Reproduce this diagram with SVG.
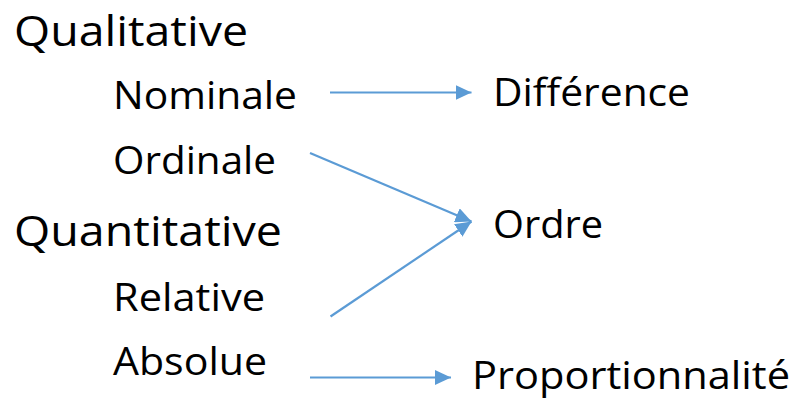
<svg xmlns="http://www.w3.org/2000/svg" width="797" height="405" viewBox="0 0 797 405">
<defs>
<style>
text{font-family:"Open Sans","Liberation Sans",sans-serif;fill:#000}
.big{font-size:42px}
.sm{font-size:38px}
.c{stroke:#5B9BD5;stroke-width:2.2;fill:none}
</style>
<marker id="ah" viewBox="0 0 16 15" refX="16" refY="7.5" markerWidth="16" markerHeight="15" markerUnits="userSpaceOnUse" orient="auto">
<path d="M0,0 L16,7.5 L0,15 Z" fill="#5B9BD5"/>
</marker>
</defs>
<rect width="797" height="405" fill="#fff"/>
<g id="qualitative"><text class="big" x="14" y="45.5" textLength="234" lengthAdjust="spacingAndGlyphs">Qualitative</text></g>
<g id="nominale"><text class="sm" x="113" y="109" textLength="184" lengthAdjust="spacingAndGlyphs">Nominale</text></g>
<g id="ordinale"><text class="sm" x="113" y="174" textLength="163" lengthAdjust="spacingAndGlyphs">Ordinale</text></g>
<g id="quantitative"><text class="big" x="14" y="246" textLength="268" lengthAdjust="spacingAndGlyphs">Quantitative</text></g>
<g id="relative"><text class="sm" x="113" y="311" textLength="152" lengthAdjust="spacingAndGlyphs">Relative</text></g>
<g id="absolue"><text class="sm" x="113" y="375" textLength="154" lengthAdjust="spacingAndGlyphs">Absolue</text></g>
<g id="difference"><text class="sm" x="493" y="106" textLength="197" lengthAdjust="spacingAndGlyphs">Différence</text></g>
<g id="ordre"><text class="sm" x="493" y="238" textLength="110" lengthAdjust="spacingAndGlyphs">Ordre</text></g>
<g id="proportionnalite"><text class="sm" x="472" y="389" textLength="318" lengthAdjust="spacingAndGlyphs">Proportionnalité</text></g>
<g id="connectors">
<line class="c" x1="330" y1="92.5" x2="471.5" y2="92.5" marker-end="url(#ah)"/>
<line class="c" x1="310" y1="153" x2="471.5" y2="221.5" marker-end="url(#ah)"/>
<line class="c" x1="330.5" y1="316.5" x2="471.5" y2="221.5" marker-end="url(#ah)"/>
<line class="c" x1="310" y1="377.5" x2="451" y2="377.5" marker-end="url(#ah)"/>
</g>
</svg>
